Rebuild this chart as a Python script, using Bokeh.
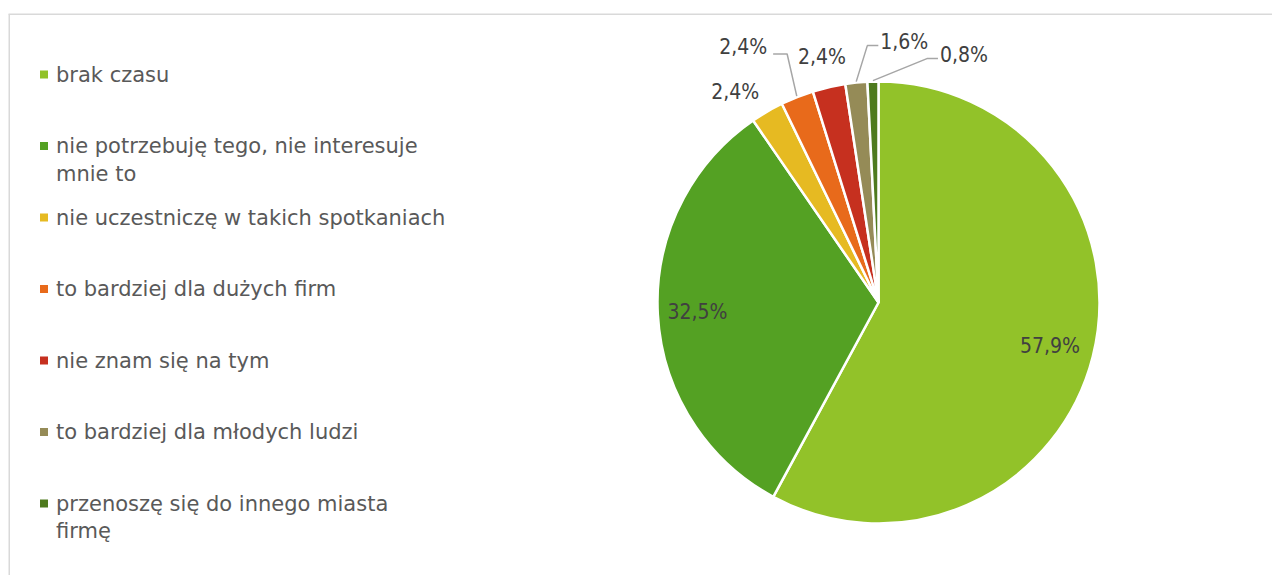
import numpy as np
from bokeh.plotting import figure
from bokeh.models import Range1d
from bokeh.core.properties import value
from bokeh.embed import file_html
from bokeh.resources import INLINE

# ---- data ----
categories = [
    "brak czasu",
    "nie potrzebuję tego, nie interesuje\nmnie to",
    "nie uczestniczę w takich spotkaniach",
    "to bardziej dla dużych firm",
    "nie znam się na tym",
    "to bardziej dla młodych ludzi",
    "przenoszę się do innego miasta\nfirmę",
]
percent = [57.9, 32.5, 2.4, 2.4, 2.4, 1.6, 0.8]
pct_labels = ["57,9%", "32,5%", "2,4%", "2,4%", "2,4%", "1,6%", "0,8%"]

# ---- styles / layout ----
colors = ["#92C229", "#54A123", "#E6BA22", "#E86A1B", "#C6301F", "#958B57", "#4E7A1E"]
W, H = 1272, 575
CX, CY, R = 878, -302, 221          # data y = -screen y
label_inside = [0.8, 0.82, None, None, None, None, None]
label_offset = [None, None, (-32, -20), (-54, -50), (-7, -30), (48, -41), (91, -27)]
leaders = [None, None, None, ((44, 7), (30, 7)), None, ((-37, 4), (-26, 4)), ((-37, 4), (-26, 4))]
legend_x = 43.5
legend_y0, legend_dy = 74, 71.5
LABEL_FONT = "DejaVu Sans Condensed, DejaVu Sans"

p = figure(width=W, height=H, output_backend="svg", toolbar_location=None,
           x_range=Range1d(0, W), y_range=Range1d(-H, 0),
           min_border=0, outline_line_color=None)
p.axis.visible = False
p.grid.visible = False
p.background_fill_color = "white"

# chart border (top and left visible)
p.line([8, W], [-13.75, -13.75], line_color="#D9D9D9", line_width=1.5)
p.line([8.75, 8.75], [-13.75, -H], line_color="#D9D9D9", line_width=1.5)

# ---- pie ----
frac = np.array(percent) / sum(percent)
cum_end = np.cumsum(frac)
cum_start = cum_end - frac
start_ang = np.pi / 2 - 2 * np.pi * cum_start
end_ang = np.pi / 2 - 2 * np.pi * cum_end
p.wedge(x=CX, y=CY, radius=R, radius_units="screen",
        start_angle=start_ang, end_angle=end_ang, direction="clock",
        fill_color=colors, line_color="white", line_width=2.5)

mid = 2 * np.pi * (cum_start + cum_end) / 2   # clockwise from top
lx, ly, lxs, lys = [], [], [], []
for i, th in enumerate(mid):
    if label_inside[i] is not None:
        f = label_inside[i]
        lx.append(CX + f * R * np.sin(th)); ly.append(CY + f * R * np.cos(th))
    else:
        ax, ay = CX + R * np.sin(th), CY + R * np.cos(th)
        dx, dy = label_offset[i]
        cx, cy = ax + dx, ay - dy
        lx.append(cx); ly.append(cy)
        if leaders[i] is not None:
            (ex, ey), (tx, ty) = leaders[i]
            sx, sy = CX + (R + 1) * np.sin(th), CY + (R + 1) * np.cos(th)
            lxs.append([sx, cx + ex, cx + tx])
            lys.append([sy, cy - ey, cy - ty])

p.multi_line(xs=lxs, ys=lys, line_color="#A6A6A6", line_width=1.5)
p.text(x=lx, y=ly, text=pct_labels, text_align="center", text_baseline="middle",
       text_font=value(LABEL_FONT), text_font_size="21px", text_color="#404040")

# ---- legend ----
n = len(categories)
leg_y = [-(legend_y0 + i * legend_dy) for i in range(n)]
p.rect(x=[legend_x] * n, y=leg_y, width=8, height=8, width_units="screen",
       height_units="screen", fill_color=colors, line_color=None)
txt_y = [y - 14 if "\n" in c else y for c, y in zip(categories, leg_y)]
p.text(x=[legend_x + 12] * n, y=txt_y, text=categories, text_align="left",
       text_baseline="middle", text_font=value("DejaVu Sans"), text_font_size="21px",
       text_color="#595959", text_line_height=1.15)

open("out.html", "w").write(file_html(p, INLINE))
